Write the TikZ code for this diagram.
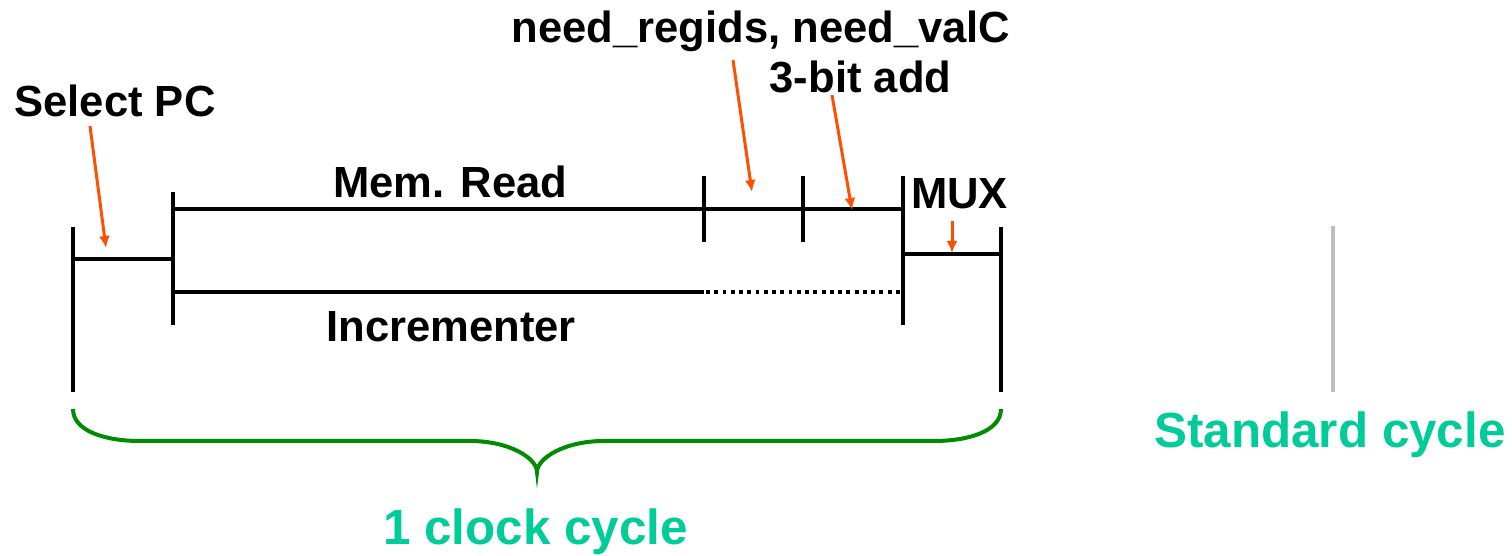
\documentclass[tikz,border=0pt]{standalone}
\usepackage{fontspec}
\setmainfont{Liberation Sans}
\usepackage{xcolor}
\usepackage{tikz}
\usetikzlibrary{arrows.meta,positioning}
\definecolor{ptr}{RGB}{255,79,0}
\definecolor{bracegreen}{RGB}{0,140,0}
\definecolor{cyclegreen}{RGB}{0,204,153}
\definecolor{stdgray}{RGB}{190,190,190}

\begin{document}
\begin{tikzpicture}[>=Latex,
  lbl/.style={font=\fontsize{24.8}{30}\selectfont\bfseries, inner sep=0pt},
  cyc/.style={font=\fontsize{28.1}{34}\selectfont\bfseries, inner sep=0pt,
    text=cyclegreen},
  tline/.style={line width=0.08cm},
  ptrarrow/.style={ptr, line width=0.06cm,
    -{Latex[length=2.4mm,width=2.2mm]}}]
\useasboundingbox (0,0) rectangle (30.24,11.12);
% --- Stage boundaries ---
\draw[tline] (1.46,3.28) -- (1.46,6.58);
\draw[tline] (3.46,4.62) -- (3.46,7.28);
\draw[tline] (18.06,4.62) -- (18.06,7.60);
\draw[tline] (20.02,3.28) -- (20.02,6.58);
% Select PC segment
\draw[tline] (1.46,5.94) -- (3.46,5.94);
% Memory read with two sub-steps
\draw[tline] (3.46,6.94) -- (18.06,6.94);
\draw[tline] (14.08,6.28) -- (14.08,7.60);
\draw[tline] (16.06,6.28) -- (16.06,7.60);
% Incrementer (solid, then dotted slack)
\draw[tline] (3.46,5.28) -- (14.08,5.28);
\draw[line width=0.08cm, dash pattern=on 2.2pt off 2.5pt]
  (14.12,5.28) -- (18.00,5.28);
% MUX segment
\draw[tline] (18.06,6.04) -- (20.02,6.04);
% Standard cycle marker
\draw[stdgray, line width=0.08cm] (26.66,3.28) -- (26.66,6.60);

% --- Labels ---
\node[lbl] (selpc) at (2.30,9.10) {Select PC};
\node[lbl] (memread) at (9.01,7.48) {Mem. Read};
\node[lbl] (incr) at (9.02,4.58) {Incrementer};
\node[lbl, anchor=base] (needlbl) at (15.22,10.26)
  {need\_regids, need\_valC};
\node[lbl, anchor=base] (addlbl) at (17.21,9.26) {3-bit add};
\node[lbl] (muxlbl) at (19.19,7.25) {MUX};

% --- Pointers ---
\coordinate (seltail) at (1.80,8.60);
\coordinate (selhead) at (2.12,6.16);
\coordinate (needtail) at (14.66,9.92);
\coordinate (needhead) at (15.04,7.28);
\coordinate (addtail) at (16.64,9.22);
\coordinate (addhead) at (17.04,6.92);
\coordinate (muxtail) at (19.04,6.70);
\coordinate (muxhead) at (19.04,6.06);
\draw[ptrarrow] (seltail) -- (selhead);
\draw[ptrarrow] (needtail) -- (needhead);
\draw[ptrarrow] (addtail) -- (addhead);
\draw[ptrarrow] (muxtail) -- (muxhead);

% --- Brace and cycle labels ---
\draw[bracegreen, line width=0.08cm]
  (1.46,2.94) .. controls (1.46,2.50) and (2.10,2.30) .. (2.80,2.30)
  -- (9.40,2.30) .. controls (10.20,2.30) and (10.74,1.95) .. (10.74,1.68)
  .. controls (10.74,1.95) and (11.28,2.30) .. (12.08,2.30)
  -- (18.68,2.30) .. controls (19.38,2.30) and (20.02,2.50) .. (20.02,2.94);
\node[cyc, anchor=base] (clklbl) at (10.71,0.22) {1 clock cycle};
\node[cyc, anchor=base] (stdlbl) at (26.60,2.16) {Standard cycle};
\end{tikzpicture}
\end{document}
